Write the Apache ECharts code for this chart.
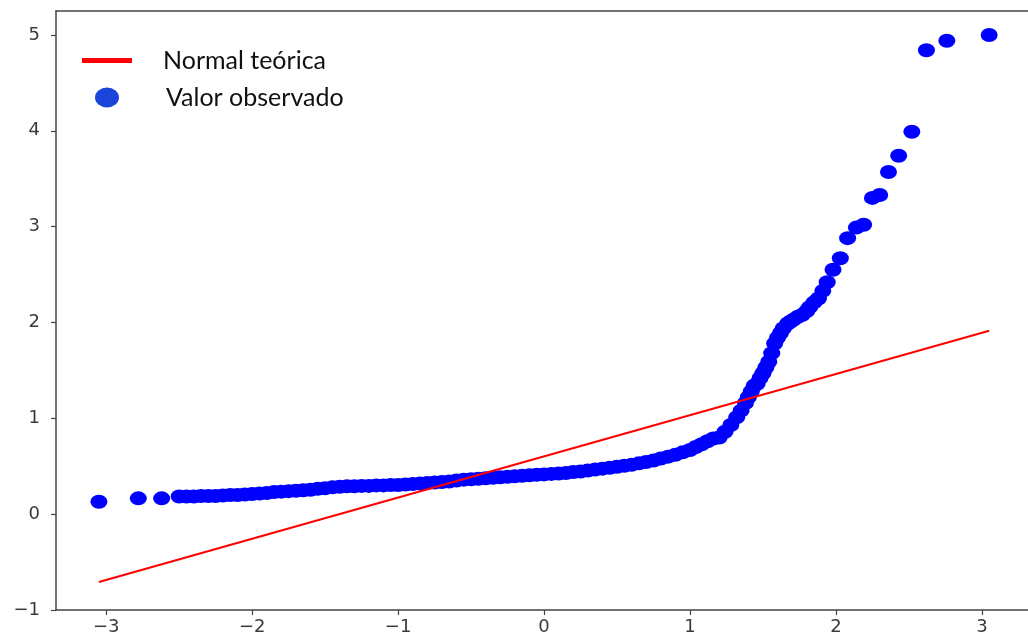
<!DOCTYPE html>
<html>
<head>
<meta charset="utf-8">
<script src="https://cdn.jsdelivr.net/npm/echarts@6/dist/echarts.min.js"></script>
<style>
html,body{margin:0;padding:0;background:#fff;}
#chart{width:1028px;height:642px;}
</style>
</head>
<body>
<div id="chart"></div>
<script>
// Tick values
const xTicks = [-3, -2, -1, 0, 1, 2, 3];
const yTicks = [-1, 0, 1, 2, 3, 4, 5];

// Theoretical normal line (endpoints)
const lineX = [-3.05, 3.05];
const lineY = [-0.707, 1.913];

// Observed values: theoretical quantile (x) and ordered value (y)
const obsX = [
  -3.05, -2.78, -2.62, -2.50, -2.45, -2.40, -2.35, -2.30, -2.25, -2.20,
  -2.15, -2.10, -2.05, -2.00, -1.95, -1.90, -1.85, -1.80, -1.75, -1.70,
  -1.65, -1.60, -1.55, -1.50, -1.45, -1.40, -1.35, -1.30, -1.25, -1.20,
  -1.15, -1.10, -1.05, -1.00, -0.95, -0.90, -0.85, -0.80, -0.75, -0.70,
  -0.65, -0.60, -0.55, -0.50, -0.45, -0.40, -0.35, -0.30, -0.25, -0.20,
  -0.15, -0.10, -0.05, 0.00, 0.05, 0.10, 0.15, 0.20, 0.25, 0.30,
  0.35, 0.40, 0.45, 0.50, 0.55, 0.60, 0.65, 0.70, 0.75, 0.80,
  0.85, 0.90, 0.95, 1.00, 1.04, 1.08, 1.12, 1.16, 1.20, 1.24,
  1.28, 1.32, 1.35, 1.38, 1.40, 1.42, 1.44, 1.46, 1.48, 1.50,
  1.52, 1.54, 1.56, 1.58, 1.60, 1.62, 1.64, 1.67, 1.69, 1.71,
  1.74, 1.77, 1.80, 1.82, 1.85, 1.88, 1.91, 1.94, 1.98, 2.03,
  2.08, 2.14, 2.19, 2.25, 2.30, 2.36, 2.43, 2.52, 2.62, 2.76,
  3.05
];
const obsY = [
  0.13, 0.165, 0.165, 0.185, 0.185, 0.185, 0.19, 0.19, 0.19, 0.195,
  0.20, 0.20, 0.205, 0.21, 0.215, 0.22, 0.23, 0.235, 0.24, 0.245,
  0.25, 0.255, 0.265, 0.27, 0.28, 0.285, 0.29, 0.29, 0.295, 0.295,
  0.30, 0.30, 0.305, 0.305, 0.31, 0.315, 0.32, 0.325, 0.33, 0.335,
  0.34, 0.35, 0.36, 0.365, 0.37, 0.375, 0.38, 0.385, 0.39, 0.395,
  0.40, 0.405, 0.41, 0.415, 0.42, 0.425, 0.43, 0.44, 0.445, 0.455,
  0.465, 0.475, 0.485, 0.495, 0.505, 0.515, 0.53, 0.545, 0.56, 0.58,
  0.60, 0.62, 0.645, 0.67, 0.70, 0.73, 0.76, 0.79, 0.80, 0.86,
  0.93, 1.01, 1.08, 1.16, 1.22, 1.28, 1.34, 1.36, 1.42, 1.47,
  1.53, 1.59, 1.68, 1.78, 1.84, 1.89, 1.94, 1.99, 2.01, 2.03,
  2.06, 2.08, 2.12, 2.16, 2.21, 2.25, 2.33, 2.42, 2.55, 2.67,
  2.88, 2.99, 3.02, 3.30, 3.33, 3.57, 3.74, 3.99, 4.84, 4.94,
  5.00
];

const lineData = lineX.map((x, i) => [x, lineY[i]]);
const obsData = obsX.map((x, i) => [x, obsY[i]]);

const minus = v => String(v).replace('-', '\u2212');
const axisColor = '#444';
const tickFont = { fontFamily: 'DejaVu Sans', fontSize: 18, color: '#3a3a3a' };

const chart = echarts.init(document.getElementById('chart'), null, { renderer: 'canvas' });
chart.setOption({
  animation: false,
  backgroundColor: '#fff',
  grid: { left: 56, right: 0, top: 11, bottom: 32, containLabel: false },
  legend: [
    {
      left: 77, top: 43,
      itemWidth: 50, itemHeight: 5,
      icon: 'rect',
      selectedMode: false,
      data: [{ name: 'Normal teórica', itemStyle: { color: '#ff0000' } }],
      textStyle: { fontFamily: 'Lato', fontSize: 25, lineHeight: 24, color: '#111', padding: [0, 0, 0, 26] }
    },
    {
      left: 90, top: 80,
      itemWidth: 24, itemHeight: 20,
      icon: 'path://M0,10A12,10,0,1,1,24,10A12,10,0,1,1,0,10Z',
      selectedMode: false,
      data: [{ name: 'Valor observado', itemStyle: { color: '#1a45d8' } }],
      textStyle: { fontFamily: 'Lato', fontSize: 25, lineHeight: 24, color: '#111', padding: [0, 0, 0, 42] }
    }
  ],
  xAxis: [
    {
      type: 'value', min: -3.344, max: 3.316, position: 'bottom',
      splitLine: { show: false },
      axisLine: { show: true, onZero: false, lineStyle: { color: axisColor, width: 1.5 } },
      axisTick: { show: true, length: 5, customValues: xTicks, lineStyle: { color: axisColor, width: 1.2 } },
      axisLabel: Object.assign({ margin: 8, customValues: xTicks, formatter: minus }, tickFont)
    },
    {
      type: 'value', min: -3.344, max: 3.316, position: 'top',
      splitLine: { show: false },
      axisLine: { show: true, onZero: false, lineStyle: { color: axisColor, width: 1.5 } },
      axisTick: { show: false },
      axisLabel: { show: false }
    }
  ],
  yAxis: {
    type: 'value', min: -1, max: 5.25,
    splitLine: { show: false },
    axisLine: { show: true, onZero: false, lineStyle: { color: axisColor, width: 1.5 } },
    axisTick: { show: true, length: 5, customValues: yTicks, lineStyle: { color: axisColor, width: 1.2 } },
    axisLabel: Object.assign({ margin: 16, customValues: yTicks, formatter: minus }, tickFont)
  },
  series: [
    {
      name: 'Normal teórica',
      type: 'line',
      data: lineData,
      showSymbol: false,
      symbol: 'none',
      lineStyle: { color: '#ff0000', width: 2 },
      itemStyle: { color: '#ff0000' },
      z: 3
    },
    {
      name: 'Valor observado',
      type: 'scatter',
      data: obsData,
      symbol: 'path://M0,7A8.5,7,0,1,1,17,7A8.5,7,0,1,1,0,7Z',
      symbolKeepAspect: false,
      symbolSize: [17, 14],
      itemStyle: { color: '#0000ff', opacity: 1 },
      z: 2
    }
  ]
});
</script>
</body>
</html>
